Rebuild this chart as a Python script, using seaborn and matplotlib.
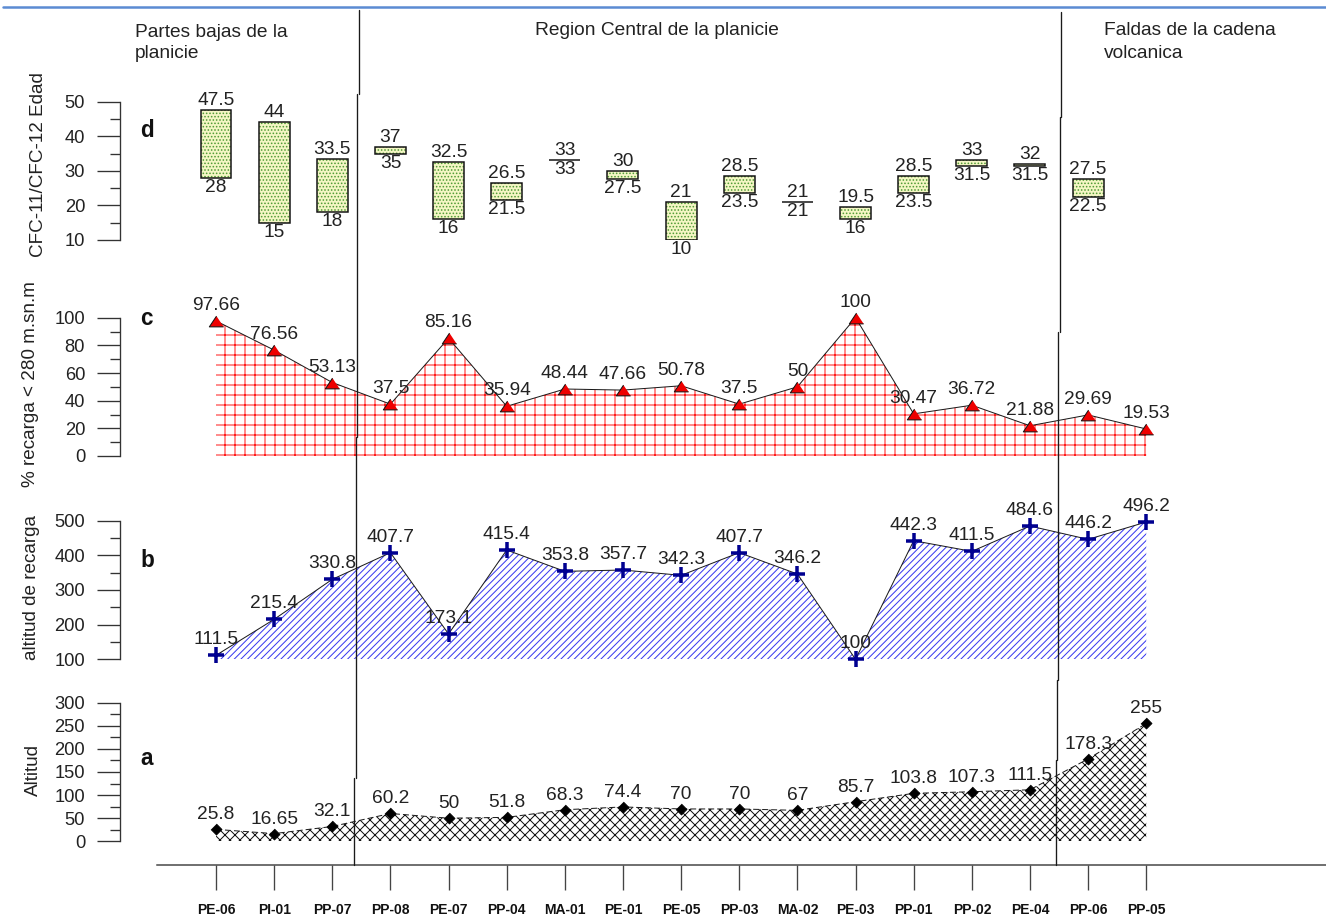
import numpy as np
import matplotlib
matplotlib.use("Agg")
import matplotlib.pyplot as plt
import seaborn as sns
from matplotlib.ticker import MultipleLocator
from matplotlib.lines import Line2D

# ---- data -------------------------------------------------------------
wells = ["PE-06", "PI-01", "PP-07", "PP-08", "PE-07", "PP-04", "MA-01", "PE-01",
         "PE-05", "PP-03", "MA-02", "PE-03", "PP-01", "PP-02", "PE-04", "PP-06", "PP-05"]

# d: CFC-11 / CFC-12 apparent age range (years); PP-05 has no age
edad_max = [47.5, 44, 33.5, 37, 32.5, 26.5, 33, 30, 21, 28.5, 21, 19.5, 28.5, 33, 32, 27.5, np.nan]
edad_min = [28, 15, 18, 35, 16, 21.5, 33, 27.5, 10, 23.5, 21, 16, 23.5, 31.5, 31.5, 22.5, np.nan]

# c: % of recharge below 280 m a.s.l.
recarga_pct = [97.66, 76.56, 53.13, 37.5, 85.16, 35.94, 48.44, 47.66, 50.78, 37.5, 50,
               100, 30.47, 36.72, 21.88, 29.69, 19.53]

# b: recharge altitude
altitud_recarga = [111.5, 215.4, 330.8, 407.7, 173.1, 415.4, 353.8, 357.7, 342.3, 407.7,
                   346.2, 100, 442.3, 411.5, 484.6, 446.2, 496.2]

# a: well altitude
altitud = [25.8, 16.65, 32.1, 60.2, 50, 51.8, 68.3, 74.4, 70, 70, 67, 85.7, 103.8,
           107.3, 111.5, 178.3, 255]

zonas = ["Partes bajas de la\nplanicie", "Region Central de la planicie",
         "Faldas de la cadena\nvolcanica"]

# ---- figure setup ----------------------------------------------------
W, H, DPI = 1326, 918, 120
sns.set_theme(style="white")
plt.rcParams["font.family"] = ["Liberation Sans", "DejaVu Sans"]
plt.rcParams["hatch.linewidth"] = 0.6

fig = plt.figure(figsize=(W / DPI, H / DPI), dpi=DPI)
fig.patch.set_facecolor("white")


def fx(px):
    return px / W


def fy(py):
    return 1 - py / H


X0, DX = 216.0, 58.14          # pixel position of first well and spacing


def xlim_for(left_px, right_px):
    return ((left_px - X0) / DX, (right_px - X0) / DX)


AX_LEFT = 120
SPINE = "#333333"
TXT = "#222222"
FS_VAL = 11.5
FS_TICK = 11


def panel(top, bottom, ylim, major, minor):
    ax = fig.add_axes([fx(AX_LEFT), fy(bottom), fx(W) - fx(AX_LEFT), (bottom - top) / H])
    ax.set_xlim(*xlim_for(AX_LEFT, W))
    ax.set_ylim(*ylim)
    ax.patch.set_alpha(0)
    ax.grid(False)
    for s in ("top", "right", "bottom"):
        ax.spines[s].set_visible(False)
    ax.spines["left"].set_color(SPINE)
    ax.spines["left"].set_linewidth(0.8)
    ax.set_xticks([])
    ax.yaxis.set_major_locator(MultipleLocator(major))
    ax.yaxis.set_minor_locator(MultipleLocator(minor))
    ax.tick_params(axis="y", which="major", left=True, direction="out", length=13.8,
                   width=0.8, color=SPINE, pad=7.2, labelsize=FS_TICK, labelcolor=TXT)
    ax.tick_params(axis="y", which="minor", left=True, direction="out", length=6,
                   width=0.8, color=SPINE)
    return ax


def label_points(ax, xs, ys, dy):
    for xi, yi in zip(xs, ys):
        ax.annotate(f"{yi:g}", (xi, yi), xytext=(0, dy), textcoords="offset pixels",
                    ha="center", va="baseline", fontsize=FS_VAL, color=TXT,
                    annotation_clip=False, zorder=5)


x = np.arange(len(wells))

# ---- panel d: age ranges ---------------------------------------------
ax_d = panel(101.7, 240, (10, 50), 10, 5)
hi = np.array(edad_max)
lo = np.array(edad_min)
ok = ~np.isnan(hi)
ax_d.bar(x[ok], hi[ok] - lo[ok], bottom=lo[ok], width=0.533, color="#f4f6c4",
         edgecolor="#4f9a35", linewidth=0, hatch="......", zorder=2)
ax_d.bar(x[ok], hi[ok] - lo[ok], bottom=lo[ok], width=0.533, fill=False,
         edgecolor="#111111", linewidth=0.9, zorder=3)
for xi, h, l in zip(x[ok], hi[ok], lo[ok]):
    ax_d.annotate(f"{h:g}", (xi, h), xytext=(0, 5), textcoords="offset pixels",
                  ha="center", va="baseline", fontsize=FS_VAL, color=TXT, annotation_clip=False)
    ax_d.annotate(f"{l:g}", (xi, l), xytext=(0, -1), textcoords="offset pixels",
                  ha="center", va="top", fontsize=FS_VAL, color=TXT, annotation_clip=False)

# ---- panel c: % recharge below 280 m ---------------------------------
ax_c = panel(317.7, 456, (0, 100), 20, 10)
ax_c.fill_between(x, 0, recarga_pct, facecolor="none", edgecolor="#ff1a1a",
                  hatch="++", linewidth=0, zorder=1)
tri = [(0, 0.75), (-1, -0.75), (1, -0.75)]
sns.lineplot(x=x, y=recarga_pct, ax=ax_c, color="#1a1a1a", linewidth=0.6,
             marker=tri, markersize=8.6, markerfacecolor="#ee0000",
             markeredgecolor="#111111", markeredgewidth=0.6, clip_on=False, zorder=3)
label_points(ax_c, x, recarga_pct, 11)

# ---- panel b: recharge altitude --------------------------------------
ax_b = panel(520.7, 659.3, (100, 500), 100, 50)
ax_b.fill_between(x, 100, altitud_recarga, facecolor="none", edgecolor="#3838f0",
                  hatch="//////", linewidth=0, zorder=1)
sns.lineplot(x=x, y=altitud_recarga, ax=ax_b, color="#1a1a1a", linewidth=0.6,
             marker="+", markersize=9.5, markeredgecolor="#000090",
             markeredgewidth=2.1, clip_on=False, zorder=3)
label_points(ax_b, x, altitud_recarga, 11)

# ---- panel a: well altitude ------------------------------------------
ax_a = panel(702.7, 841.3, (0, 300), 50, 25)
ax_a.fill_between(x, 0, altitud, facecolor="none", edgecolor="#111111",
                  hatch="xxxx", linewidth=0, zorder=1)
dia = [(0, 1), (1, 0), (0, -1), (-1, 0)]
sns.lineplot(x=x, y=altitud, ax=ax_a, color="#1a1a1a", linewidth=0.6,
             linestyle=(0, (6, 3)), marker=dia, markersize=6.6,
             markerfacecolor="#000000", markeredgecolor="#000000",
             markeredgewidth=0.5, clip_on=False, zorder=3)
label_points(ax_a, x, altitud, 10)

for ax in (ax_d, ax_c, ax_b, ax_a):
    ax.set_xlabel("")
    ax.set_ylabel("")

# ---- well axis -------------------------------------------------------
ax_x = fig.add_axes([fx(157), fy(865), fx(W) - fx(157), 0.0001])
ax_x.set_xlim(*xlim_for(157, W))
ax_x.patch.set_alpha(0)
for s in ("top", "right", "left"):
    ax_x.spines[s].set_visible(False)
ax_x.spines["bottom"].set_color("#444444")
ax_x.spines["bottom"].set_linewidth(0.9)
ax_x.set_yticks([])
ax_x.set_xticks(x, labels=wells)
ax_x.tick_params(axis="x", bottom=True, direction="out", length=15, width=0.8,
                 color="#444444", pad=7.5, labelsize=8.3, labelcolor="#111111")
for lab in ax_x.get_xticklabels():
    lab.set_fontweight("bold")

# ---- panel letters and axis titles ------------------------------------
for letter, base in (("d", 137.3), ("c", 325), ("b", 567.3), ("a", 765)):
    fig.text(fx(140), fy(base), letter, fontsize=13.5, fontweight="bold",
             ha="left", va="baseline", color="#111111")

for text, cx, cy in (("CFC-11/CFC-12 Edad", 39, 165),
                     ("% recarga < 280 m.sn.m", 31, 384),
                     ("altitud de recarga", 31.5, 588),
                     ("Altitud", 33, 770)):
    fig.text(fx(cx), fy(cy), text, rotation=90, fontsize=11.3, ha="center",
             va="center", color=TXT)

# ---- zone headers and dividers ---------------------------------------
z1 = zonas[0].split("\n")
z3 = zonas[2].split("\n")
fig.text(fx(135), fy(36.7), z1[0], fontsize=FS_VAL, ha="left", va="baseline", color=TXT)
fig.text(fx(135), fy(58.3), z1[1], fontsize=FS_VAL, ha="left", va="baseline", color=TXT)
fig.text(fx(657), fy(35), zonas[1], fontsize=FS_VAL, ha="center", va="baseline", color=TXT)
fig.text(fx(1103.5), fy(35), z3[0], fontsize=FS_VAL, ha="left", va="baseline", color=TXT)
fig.text(fx(1103.5), fy(58.3), z3[1], fontsize=FS_VAL, ha="left", va="baseline", color=TXT)

dividers = [
    [(359, 10, 94), (357.3, 94, 437), (355.5, 437, 778), (353.5, 778, 865)],
    [(1061, 12, 117), (1060, 117, 332), (1058.3, 332, 680), (1056.7, 680, 760), (1056, 760, 865)],
]
for segs in dividers:
    for px, y0, y1 in segs:
        fig.add_artist(Line2D([fx(px), fx(px)], [fy(y0), fy(y1)], color="#1a1a1a",
                              linewidth=0.8, transform=fig.transFigure))

fig.add_artist(Line2D([fx(3), 1], [fy(6.5), fy(6.5)], color="#5b8bd3",
                      linewidth=1.5, transform=fig.transFigure))

fig.savefig("out.png", dpi=DPI, facecolor="white")
